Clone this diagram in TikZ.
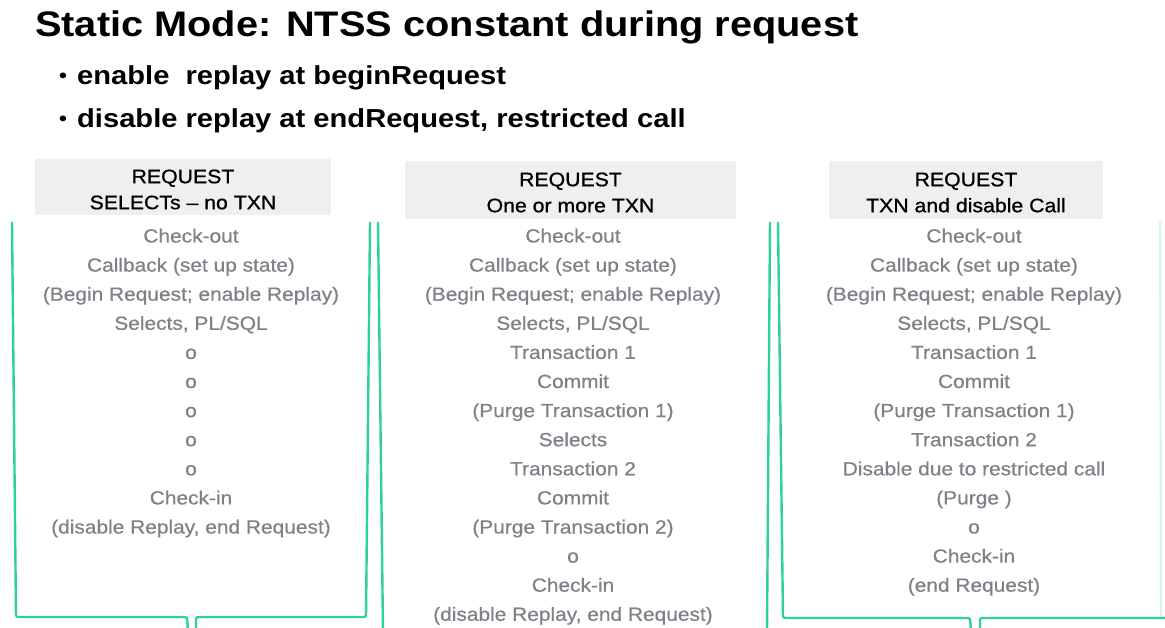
\documentclass[tikz,border=0pt]{standalone}
\usepackage{fontspec}
\setmainfont{Liberation Sans}
\newfontfamily\titlef[FakeStretch=1.12]{Liberation Sans}
\newfontfamily\bulf[FakeStretch=1.12]{Liberation Sans}
\newfontfamily\bodyf[FakeStretch=1.10,FakeBold=0.6]{Liberation Sans}
\newfontfamily\headf[FakeStretch=1.09,FakeBold=0.9]{Liberation Sans}
\definecolor{bodygray}{RGB}{128,128,136}
\definecolor{mint}{RGB}{45,208,158}
\definecolor{headfill}{RGB}{239,239,239}
\begin{document}
\begin{tikzpicture}[x=1pt,y=-1pt,
  titletext/.style={anchor=base west,inner sep=0pt,font=\titlef\bfseries\fontsize{35.5}{40}\selectfont},
  bultext/.style={anchor=base west,inner sep=0pt,font=\bulf\bfseries\fontsize{26}{30}\selectfont},
  bulletdot/.style={anchor=base west,inner sep=0pt,font=\bulf\bfseries\fontsize{20}{24}\selectfont},
  headbox/.style={fill=headfill,inner sep=0pt},
  headtext/.style={inner sep=0pt,align=center,font=\headf\fontsize{19.5}{26}\selectfont,text=black},
  bodytext/.style={anchor=base,inner sep=0pt,font=\bodyf\fontsize{19}{22}\selectfont,text=bodygray},
  brk/.style={draw=mint,line width=2.4pt,line join=round,rounded corners=1.5pt}]
\useasboundingbox (0,0) rectangle (1165,628);

% title and bullets
\node[titletext] (title) at (35,37) {Static Mode: NTSS constant during request};
\node[bulletdot] (b1dot) at (59,83) {•};
\node[bultext] (b1) at (77,85) {enable~~replay at beginRequest};
\node[bulletdot] (b2dot) at (59,126) {•};
\node[bultext] (b2) at (77,128) {disable replay at endRequest, restricted call};

% headers
\node[headbox,minimum width=296pt,minimum height=56pt] (h1) at (183,187) {};
\node[headbox,minimum width=331pt,minimum height=58pt] (h2) at (570.5,190) {};
\node[headbox,minimum width=274pt,minimum height=58pt] (h3) at (966,190) {};
\node[headtext] (h1t) at ([yshift=-2.5pt]h1.center) {REQUEST\\SELECTs – no TXN};
\node[headtext] (h2t) at ([yshift=-2.5pt]h2.center) {REQUEST\\One or more TXN};
\node[headtext] (h3t) at ([yshift=-2.5pt]h3.center) {REQUEST\\TXN and disable Call};

% panel 1 body
\foreach \t [count=\i from 0] in {Check-out,Callback (set up state),(Begin Request; enable Replay),{Selects, PL/SQL},o,o,o,o,o,Check-in,{(disable Replay, end Request)}}
  \node[bodytext] (pa\i) at (191,242.5+29.1*\i) {\t};

% panel 2 body
\foreach \t [count=\i from 0] in {Check-out,Callback (set up state),(Begin Request; enable Replay),{Selects, PL/SQL},Transaction 1,Commit,(Purge Transaction 1),Selects,Transaction 2,Commit,(Purge Transaction 2),o,Check-in,{(disable Replay, end Request)}}
  \node[bodytext] (pb\i) at (573,242.5+29.1*\i) {\t};

% panel 3 body
\foreach \t [count=\i from 0] in {Check-out,Callback (set up state),(Begin Request; enable Replay),{Selects, PL/SQL},Transaction 1,Commit,(Purge Transaction 1),Transaction 2,Disable due to restricted call,(Purge\ ),o,Check-in,(end Request)}
  \node[bodytext] (pc\i) at (974,242.5+29.1*\i) {\t};

% green brackets
\draw[brk] (12,222) -- (16,617) -- (187,617) -- (188,632);
\draw[brk] (196,632) -- (196,617) -- (366,617) -- (370,222);
\draw[brk] (378,222) -- (383,632);
\draw[brk] (770,222) -- (767,632);
\draw[brk] (778,222) -- (783,618) -- (970,618) -- (971,632);
\draw[brk] (980,632) -- (980,618) -- (1168,618);
\draw[brk,draw opacity=0.2] (1160,222) -- (1161,618);
\end{tikzpicture}
\end{document}
